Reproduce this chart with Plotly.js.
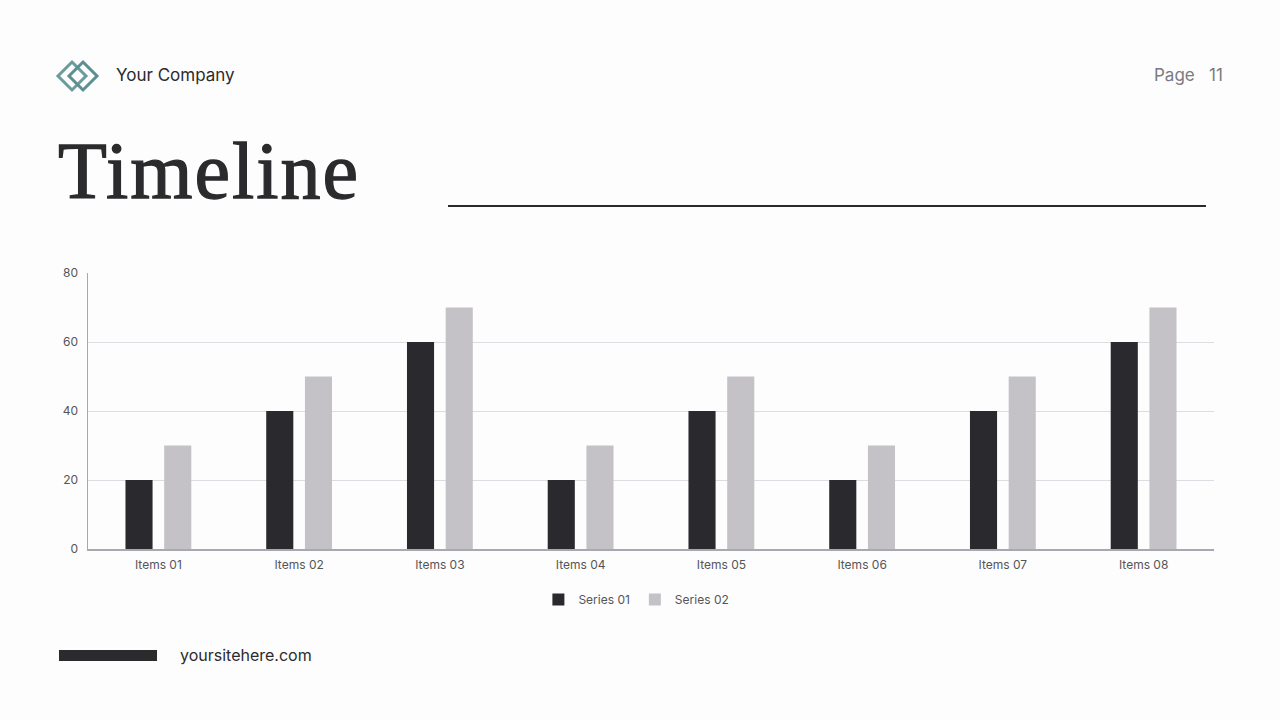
<!DOCTYPE html>
<html><head><meta charset="utf-8">
<script src="https://cdn.plot.ly/plotly-3.0.1.min.js"></script>
<style>
html,body{margin:0;padding:0;background:#fdfdfd;}
#wrap{position:relative;width:1280px;height:720px;overflow:hidden;background:#fdfdfd;}
#chart{position:absolute;left:0;top:0;width:1280px;height:720px;}
.t{position:absolute;font-family:Inter,"Noto Sans",sans-serif;white-space:nowrap;}
</style></head>
<body><div id="wrap">
<div id="chart"></div>
<svg style="position:absolute;left:51px;top:55px" width="56" height="42" viewBox="0 0 56 42">
<polygon points="21,7 35,21 21,35 7,21" fill="none" stroke="#6a9c9c" stroke-width="3"/>
<polygon points="32,7 46,21 32,35 18,21" fill="none" stroke="#5b8f90" stroke-width="3"/>
</svg>
<div class="t" style="left:116px;top:65px;font-size:17px;color:#2b2b2e;">Your Company</div>
<div class="t" style="left:1154px;top:65px;font-size:17px;color:#7a7a80;">Page&nbsp;&nbsp;&nbsp;11</div>
<div class="t" style="left:58px;top:131px;line-height:80px;font-family:'Liberation Serif','DejaVu Serif',serif;font-size:80px;color:#2b2b2e;letter-spacing:2px;-webkit-text-stroke:1.3px #2b2b2e;">Timeline</div>
<div style="position:absolute;left:448px;top:205px;width:758px;height:1.5px;background:#2b2b2e;"></div>
<div style="position:absolute;left:59px;top:650px;width:98px;height:11px;background:#2b2b2e;"></div>
<div class="t" style="left:180px;top:645px;font-size:16px;color:#2b2b2e;">yoursitehere.com</div>
</div>
<script>
const categories = ["Items 01","Items 02","Items 03","Items 04","Items 05","Items 06","Items 07","Items 08"];
const series01 = [20,40,60,20,40,20,40,60];
const series02 = [30,50,70,30,50,30,50,70];
const tickVals = [0,20,40,60,80];

const data = [
 {type:'bar', name:'Series 01', x:categories, y:series01, marker:{color:'#2a2a2e'}},
 {type:'bar', name:'Series 02', x:categories, y:series02, marker:{color:'#c4c2c6'}}
];
const layout = {
 width:1280, height:720,
 paper_bgcolor:'rgba(0,0,0,0)', plot_bgcolor:'rgba(0,0,0,0)',
 margin:{l:88, r:66, t:273, b:171, pad:0},
 barmode:'group', bargap:0.45, bargroupgap:0.3,
 font:{family:'Inter, "Noto Sans", sans-serif', color:'#555558', size:12},
 xaxis:{showline:true, linecolor:'#a8a8b0', linewidth:1.5, ticks:'', ticklabelstandoff:4, tickfont:{size:12,color:'#555558'}, fixedrange:true},
 yaxis:{range:[0,80], tickvals:tickVals, showgrid:true, gridcolor:'#dcdce2', gridwidth:1, showline:true, linecolor:'#a8a8b0', linewidth:1.5, ticks:'', ticklabelstandoff:6, tickfont:{size:12,color:'#555558'}, zeroline:false},
 showlegend:true,
 legend:{orientation:'h', x:0.4, xanchor:'left', y:-0.13, yanchor:'top', font:{size:12,color:'#555558'}, itemwidth:30, traceorder:'normal'}
};
Plotly.newPlot('chart', data, layout, {displayModeBar:false, staticPlot:true});
</script>
</body></html>
